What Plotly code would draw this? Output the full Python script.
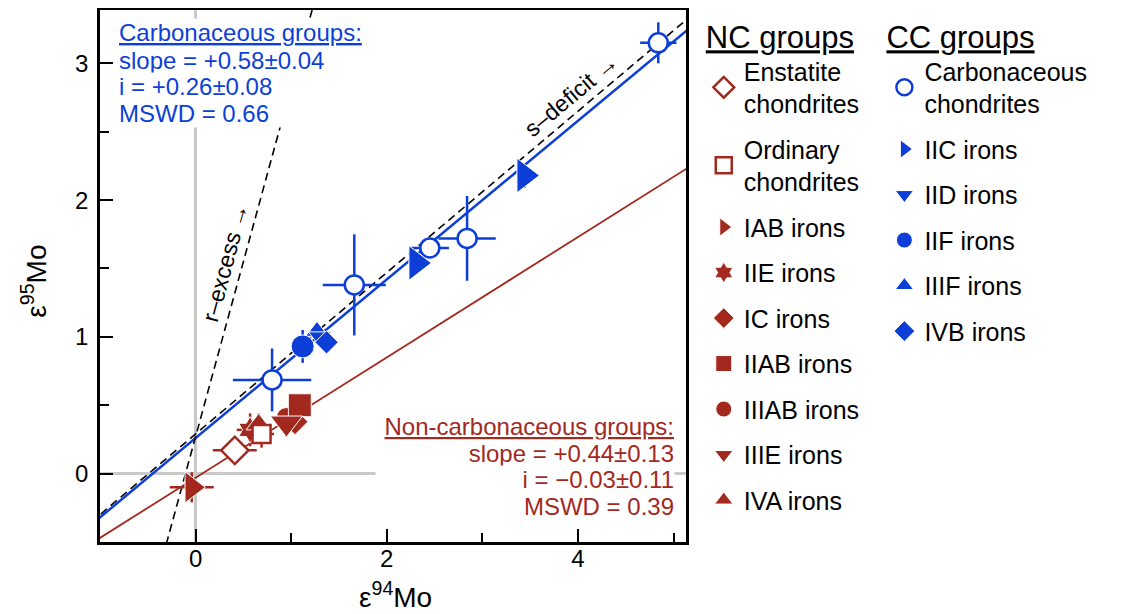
import numpy as np
import plotly.graph_objects as go

BLUE = "#0D3FD8"
RED = "#A3291F"
FONT = "Liberation Sans, Arial, Helvetica, sans-serif"

# ---------------- data ----------------
# CC groups
cc_chon_x = [0.80, 1.66, 2.45, 2.84, 4.84]
cc_chon_y = [0.685, 1.38, 1.65, 1.72, 3.15]
cc_chon_xerr = [0.41, 0.33, 0.20, 0.30, 0.19]
cc_chon_yerr = [0.23, 0.37, 0.06, 0.31, 0.15]
iic_x = [2.31, 3.44]
iic_y = [1.54, 2.18]
iic_xerr = [0.06, 0.06]
iic_yerr = [0.06, 0.09]
iid_x = [1.30]
iid_y = [1.00]
iif_x = [1.12]
iif_y = [0.93]
iif_yerr = [0.12]
iiif_x = [1.27]
iiif_y = [1.04]
ivb_x = [1.37]
ivb_y = [0.96]

# NC groups
enst_x = [0.41]
enst_y = [0.17]
enst_xerr = [0.23]
enst_yerr = [0.05]
ord_x = [0.69]
ord_y = [0.29]
ord_xerr = [0.13]
ord_yerr = [0.10]
iab_x = [-0.04]
iab_y = [-0.10]
iab_xerr = [0.23]
iab_yerr = [0.11]
iie_x = [0.57]
iie_y = [0.32]
iie_xerr = [0.14]
iie_yerr = [0.12]
ic_x = [1.04]
ic_y = [0.38]
iiab_x = [1.09]
iiab_y = [0.50]
iiiab_x = [0.95]
iiiab_y = [0.41]
iiie_x = [0.95]
iiie_y = [0.37]
iiie_yerr = [0.10]
iva_x = [0.66]
iva_y = [0.36]
iva_yerr = [0.08]

# regression / reference lines (slope, intercept)
cc_slope, cc_int = 0.58, 0.26
nc_slope, nc_int = 0.44, -0.03
sdef_slope, sdef_int = 0.59, 0.29
rex_slope, rex_int = 2.56, 0.27

x_range = [-1.0, 5.13]
y_range = [-0.5, 3.39]

fig = go.Figure()

xl = np.array([-1.2, 5.4])
fig.add_trace(go.Scatter(x=xl, y=nc_slope * xl + nc_int, mode="lines",
                         line=dict(color=RED, width=1.8), showlegend=False, hoverinfo="skip"))
fig.add_trace(go.Scatter(x=xl, y=sdef_slope * xl + sdef_int, mode="lines",
                         line=dict(color="black", width=1.6, dash="8px,5px"), showlegend=False, hoverinfo="skip"))
fig.add_trace(go.Scatter(x=xl, y=cc_slope * xl + cc_int, mode="lines",
                         line=dict(color=BLUE, width=2.5), showlegend=False, hoverinfo="skip"))
yl = np.array([-0.7, 3.6])
fig.add_trace(go.Scatter(x=(yl - rex_int) / rex_slope, y=yl, mode="lines",
                         line=dict(color="black", width=1.6, dash="8px,5px"), showlegend=False, hoverinfo="skip"))


def err(vals, color):
    if vals is None:
        return None
    return dict(type="data", array=vals, visible=True, color=color, thickness=2.5, width=0)


def add(name, x, y, symbol, size, color, filled, legend, rank, xerr=None, yerr=None):
    if filled:
        marker = dict(symbol=symbol, size=size, color=color, line=dict(color="white", width=1))
    else:
        marker = dict(symbol=symbol, size=size, color="white", line=dict(color=color, width=2.5))
    fig.add_trace(go.Scatter(
        x=x, y=y, mode="markers", name=name, marker=marker,
        error_x=err(xerr, color), error_y=err(yerr, color),
        legend=legend, legendgroup=name, legendrank=rank, showlegend=True))


# NC traces (back to front)
add("IIE irons", iie_x, iie_y, "hexagram", 20, RED, True, "legend", 4, iie_xerr, iie_yerr)
add("IVA irons", iva_x, iva_y, "triangle-up", 22, RED, True, "legend", 9, None, iva_yerr)
add("IC irons", ic_x, ic_y, "diamond", 20, RED, True, "legend", 5)
add("IIIAB irons", iiiab_x, iiiab_y, "circle", 20, RED, True, "legend", 7)
add("IIAB irons", iiab_x, iiab_y, "square", 23, RED, True, "legend", 6)
add("IIIE irons", iiie_x, iiie_y, "triangle-down", 28, RED, True, "legend", 8, None, iiie_yerr)
add("Ordinary<br>chondrites", ord_x, ord_y, "square", 18, RED, False, "legend", 2, ord_xerr, ord_yerr)
add("Enstatite<br>chondrites", enst_x, enst_y, "diamond", 21, RED, False, "legend", 1, enst_xerr, enst_yerr)
add("IAB irons", iab_x, iab_y, "triangle-right", 27, RED, True, "legend", 3, iab_xerr, iab_yerr)

# CC traces
add("Carbonaceous<br>chondrites", cc_chon_x, cc_chon_y, "circle", 19, BLUE, False, "legend2", 1, cc_chon_xerr, cc_chon_yerr)
add("IIC irons", iic_x, iic_y, "triangle-right", 30, BLUE, True, "legend2", 2, iic_xerr, iic_yerr)
add("IIIF irons", iiif_x, iiif_y, "triangle-up", 20, BLUE, True, "legend2", 5)
add("IID irons", iid_x, iid_y, "triangle-down", 20, BLUE, True, "legend2", 3)
add("IVB irons", ivb_x, ivb_y, "diamond", 18, BLUE, True, "legend2", 6)
add("IIF irons", iif_x, iif_y, "circle", 23, BLUE, True, "legend2", 4, None, iif_yerr)

# ---------------- annotations ----------------
ann = []
cc_lines = ["<u>Carbonaceous groups:</u>", "slope = +0.58±0.04", "i = +0.26±0.08", "MSWD = 0.66"]
cc_ys = [0.958, 0.906, 0.857, 0.806]
for t, yy in zip(cc_lines, cc_ys):
    ann.append(dict(text=t, xref="paper", yref="paper", x=0.030, y=yy, xanchor="left", yanchor="middle",
                    showarrow=False, bgcolor="white", borderpad=0, width=255, align="left",
                    font=dict(family=FONT, size=24, color=BLUE)))
nc_lines = ["<u>Non-carbonaceous groups:</u>", "slope = +0.44±0.13", "i = −0.03±0.11", "MSWD = 0.39"]
nc_ys = [0.218, 0.166, 0.118, 0.066]
for t, yy in zip(nc_lines, nc_ys):
    ann.append(dict(text=t, xref="paper", yref="paper", x=0.981, y=yy, xanchor="right", yanchor="middle",
                    showarrow=False, bgcolor="white", borderpad=0, width=298, align="right",
                    font=dict(family=FONT, size=24, color=RED)))
ann.append(dict(text="r–excess →", x=0.31, y=1.54, xref="x", yref="y", showarrow=False,
                textangle=-75, font=dict(family=FONT, size=23, color="black")))
ann.append(dict(text="s–deficit →", x=3.93, y=2.77, xref="x", yref="y", showarrow=False,
                textangle=-40, font=dict(family=FONT, size=23, color="black")))
# axis titles
ann.append(dict(text="ε<sup>94</sup>Mo", xref="paper", yref="paper", x=0.505, y=-0.1,
                xanchor="center", yanchor="middle", showarrow=False,
                font=dict(family=FONT, size=28, color="black")))
ann.append(dict(text="ε<sup>95</sup>Mo", xref="paper", yref="paper", x=-0.112, y=0.49,
                xanchor="center", yanchor="middle", showarrow=False, textangle=-90,
                font=dict(family=FONT, size=28, color="black")))

axis_common = dict(showline=True, linecolor="black", linewidth=2.5, mirror=True,
                   ticks="inside", ticklen=13, tickwidth=2, tickcolor="black",
                   showgrid=False, zeroline=True, zerolinecolor="#c9c9c9", zerolinewidth=2.5,
                   automargin=False,
                   tickfont=dict(family=FONT, size=24, color="black"))

leg_common = dict(yanchor="top", xanchor="left", xref="container", yref="container",
                  traceorder="grouped", tracegroupgap=10, bgcolor="rgba(0,0,0,0)", itemwidth=30,
                  maxheight=600,
                  font=dict(family=FONT, size=25, color="black"))

# page body has an 8px margin, so the figure is sized to fit inside the window
fig.update_layout(
    width=1115, height=606,
    margin=dict(l=92, r=437, t=2, b=72, autoexpand=False),
    paper_bgcolor="white", plot_bgcolor="white",
    font=dict(family=FONT, color="black"),
    xaxis=dict(range=x_range, tick0=0, dtick=2, ticklabelstandoff=-7,
               minor=dict(dtick=1, ticks="inside", ticklen=9, tickwidth=2, tickcolor="black"),
               **axis_common),
    yaxis=dict(range=y_range, tick0=0, dtick=1, ticklabelstandoff=4,
               minor=dict(dtick=0.5, ticks="inside", ticklen=9, tickwidth=2, tickcolor="black"),
               **axis_common),
    legend=dict(x=0.624, y=1.0,
                title=dict(text="<u>NC groups</u>", font=dict(family=FONT, size=31)),
                **leg_common),
    legend2=dict(x=0.786, y=1.0,
                 title=dict(text="<u>CC groups</u>", font=dict(family=FONT, size=31)),
                 **leg_common),
    annotations=ann,
)

fig.write_html("out.html")
